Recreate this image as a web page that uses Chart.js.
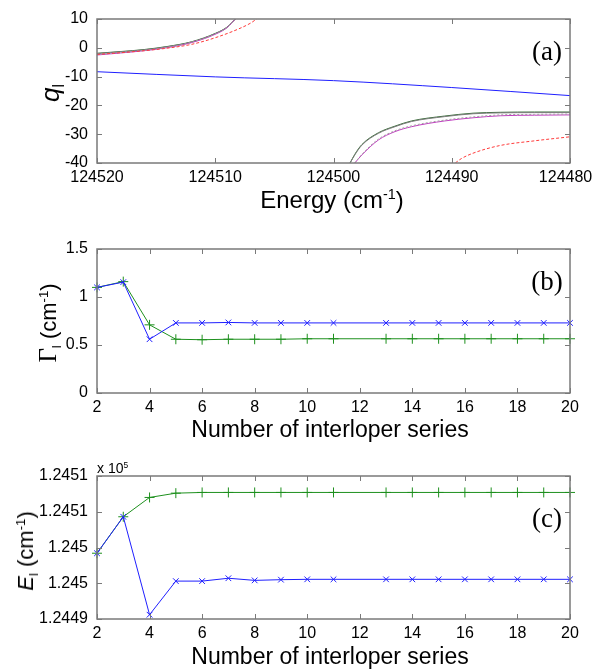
<!DOCTYPE html>
<html lang="en">
<head>
    <meta charset="UTF-8">
    <title>Fano parameters vs. interloper series</title>
    <script src="https://cdn.jsdelivr.net/npm/chart.js"></script>
    <style>
        body {
            margin: 0;
            background: #ffffff;
        }
        .figure {
            position: relative;
            width: 595px;
            height: 669px;
            background: #ffffff;
            font-family: "Liberation Sans", Arial, sans-serif;
            color: #000000;
        }
        .figure canvas {
            position: absolute;
            left: 0;
        }
        .lbl {
            position: absolute;
            white-space: nowrap;
            line-height: 1;
            transform: translate(-50%, -50%);
        }
        .rot {
            transform: translate(-50%, -50%) rotate(-90deg);
        }
        .tag {
            font-family: "Liberation Serif", "Times New Roman", serif;
            font-size: 27px;
        }
        .sub {
            font-size: 0.6em;
            position: relative;
            top: 0.35em;
        }
        .sup {
            font-size: 0.6em;
            position: relative;
            top: -0.6em;
        }
    </style>
</head>
<body>
    <div class="figure">
        <canvas id="chartA" width="595" height="220" style="top:0"></canvas>
        <canvas id="chartB" width="595" height="220" style="top:220px"></canvas>
        <canvas id="chartC" width="595" height="229" style="top:440px"></canvas>

        <div class="lbl rot" style="left:50px; top:93px; font-size:26px;"><i>q</i><span class="sub">l</span></div>
        <div class="lbl" style="left:332px; top:200px; font-size:24px;">Energy (cm<span class="sup">-1</span>)</div>
        <div class="lbl tag" style="left:547px; top:51px;">(a)</div>

        <div class="lbl rot" style="left:47px; top:323px; font-size:22px;"><span style="font-family:'Liberation Serif',serif; font-size:25px;">&Gamma;</span><span class="sub">l</span> (cm<span class="sup">-1</span>)</div>
        <div class="lbl" style="left:330px; top:429px; font-size:23px;">Number of interloper series</div>
        <div class="lbl tag" style="left:547px; top:281px;">(b)</div>

        <div class="lbl rot" style="left:26px; top:551px; font-size:22px;"><i>E</i><span class="sub">l</span> (cm<span class="sup">-1</span>)</div>
        <div class="lbl" style="left:330px; top:656px; font-size:23px;">Number of interloper series</div>
        <div class="lbl tag" style="left:547px; top:518px;">(c)</div>
        <div class="lbl" style="left:97px; top:468px; font-size:14px; transform:translate(0,-50%);">x 10<span class="sup">5</span></div>
    </div>

    <script>
        // (a) q_l against energy, each curve split into the branches either side of the pole
        const eLeft = [124520, 124518, 124516, 124514, 124512, 124510, 124509, 124508.3];
        const qGreenLeft = [-1.9, -1.3, -0.6, 0.5, 2.1, 5.0, 7.2, 10];
        const qGrayLeft = [-2.0, -1.4, -0.7, 0.4, 2.0, 4.9, 7.1, 10];
        const qMagentaLeft = [-2.5, -1.8, -1.0, 0.1, 1.8, 4.7, 7.0, 10];
        const qDotLeft = [-2.3, -1.6, -0.9, 0.2, 1.9, 4.8, 7.0, 10];
        const eRedLeft = [124520, 124518, 124516, 124514, 124512, 124510, 124508, 124507, 124506.5];
        const qRedLeft = [-2.3, -1.7, -1.0, -0.1, 1.2, 3.5, 6.6, 8.6, 10];

        const eGrayRight = [124498.6, 124498.2, 124497.6, 124496.2, 124494.8, 124493.4, 124490.6, 124488.2, 124485.9, 124483, 124480];
        const qGrayRight = [-40, -37.2, -33.8, -29.7, -27.4, -25.6, -23.9, -22.9, -22.6, -22.5, -22.5];
        const qGreenRight = [-40, -37.0, -33.6, -29.5, -27.2, -25.4, -23.7, -22.7, -22.4, -22.3, -22.3];
        const eMagentaRight = [124498.2, 124497.6, 124496.2, 124494.8, 124493.4, 124490.6, 124488.2, 124485.9, 124483, 124480];
        const qMagentaRight = [-40, -37.2, -32.0, -29.1, -27.4, -25.4, -24.3, -23.6, -23.4, -23.3];
        const qDotRight = [-40, -37.0, -31.7, -28.8, -27.1, -25.1, -24.0, -23.3, -23.1, -23.0];
        const eRedRight = [124489.7, 124489.2, 124488.2, 124486, 124483, 124480];
        const qRedRight = [-40, -38.5, -36.6, -34.0, -32.3, -30.9];

        const eBlue = [124520, 124510, 124500, 124490, 124480];
        const qBlue = [-8.3, -10.1, -11.4, -13.8, -16.6];

        // (b) and (c) against number of interloper series (no run at 12)
        const nSeries = [2, 3, 4, 5, 6, 7, 8, 9, 10, 11, 13, 14, 15, 16, 17, 18, 19, 20];
        const gammaX = [1.10, 1.155, 0.56, 0.73, 0.73, 0.735, 0.73, 0.73, 0.73, 0.73, 0.73, 0.73, 0.73, 0.73, 0.73, 0.73, 0.73, 0.73];
        const gammaPlus = [1.10, 1.16, 0.71, 0.56, 0.555, 0.56, 0.56, 0.56, 0.565, 0.565, 0.565, 0.565, 0.565, 0.565, 0.565, 0.565, 0.565, 0.565];
        const energyX = [124499.2, 124504.3, 124490.6, 124495.3, 124495.3, 124495.7, 124495.4, 124495.5, 124495.55, 124495.55, 124495.55, 124495.55, 124495.55, 124495.55, 124495.55, 124495.55, 124495.55, 124495.55];
        const energyPlus = [124499.2, 124504.3, 124507.0, 124507.6, 124507.7, 124507.7, 124507.7, 124507.7, 124507.7, 124507.7, 124507.7, 124507.7, 124507.7, 124507.7, 124507.7, 124507.7, 124507.7, 124507.7];
        const energyTickLabels = ['1.2449', '1.245', '1.245', '1.2451', '1.2451'];

        const pts = (xs, ys) => xs.map((v, i) => ({ x: v, y: ys[i] }));
        const font = { family: "'Liberation Sans', Arial, sans-serif", size: 16 };

        // closed box with inward ticks on all four sides
        const boxAxes = {
            id: 'boxAxes',
            afterDraw(chart) {
                const { ctx, chartArea: a, scales: { x, y } } = chart;
                ctx.save();
                ctx.strokeStyle = '#7a7a7a';
                ctx.lineWidth = 1;
                ctx.beginPath();
                x.ticks.forEach(t => {
                    const px = Math.round(x.getPixelForValue(t.value)) + 0.5;
                    ctx.moveTo(px, a.bottom); ctx.lineTo(px, a.bottom - 5);
                    ctx.moveTo(px, a.top); ctx.lineTo(px, a.top + 5);
                });
                y.ticks.forEach(t => {
                    const py = Math.round(y.getPixelForValue(t.value)) + 0.5;
                    ctx.moveTo(a.left, py); ctx.lineTo(a.left + 5, py);
                    ctx.moveTo(a.right, py); ctx.lineTo(a.right - 5, py);
                });
                ctx.stroke();
                ctx.lineWidth = 1.5;
                ctx.strokeRect(a.left, a.top, a.right - a.left, a.bottom - a.top);
                ctx.restore();
            }
        };

        function makeChart(id, canvasH, top, bottom, datasets, xScale, yScale) {
            return new Chart(document.getElementById(id).getContext('2d'), {
                type: 'scatter',
                data: { datasets: datasets },
                options: {
                    responsive: false,
                    animation: false,
                    devicePixelRatio: 1,
                    layout: { padding: { top: top, right: 25, left: 0, bottom: 0 } },
                    plugins: { legend: { display: false }, tooltip: { enabled: false } },
                    scales: {
                        x: Object.assign({
                            type: 'linear',
                            border: { display: false },
                            grid: { display: false },
                            afterFit: s => {
                                s.height = canvasH - bottom;
                                s.paddingLeft = 0; s.paddingRight = 0;
                            }
                        }, xScale),
                        y: Object.assign({
                            type: 'linear',
                            border: { display: false },
                            grid: { display: false },
                            afterFit: s => {
                                s.width = 97;
                                s.paddingTop = 0; s.paddingBottom = 0;
                            }
                        }, yScale)
                    }
                },
                plugins: [boxAxes]
            });
        }

        const curve = (data, color, dash) => ({
            data: data,
            showLine: true,
            borderColor: color,
            borderWidth: 1,
            borderDash: dash || [],
            pointRadius: 0,
            cubicInterpolationMode: 'monotone'
        });

        const plain = v => String(v);

        makeChart('chartA', 220, 19, 163, [
            curve(pts(eRedLeft, qRedLeft), '#ff3a3a', [3, 2]),
            curve(pts(eRedRight, qRedRight), '#ff3a3a', [3, 2]),
            curve(pts(eBlue, qBlue), '#1f1fff'),
            curve(pts(eLeft, qDotLeft), '#a0a0a0', [2, 2]),
            curve(pts(eMagentaRight, qDotRight), '#a0a0a0', [2, 2]),
            curve(pts(eLeft, qMagentaLeft), '#c03cc0'),
            curve(pts(eMagentaRight, qMagentaRight), '#c03cc0'),
            curve(pts(eLeft, qGrayLeft), '#7c7c7c'),
            curve(pts(eGrayRight, qGrayRight), '#7c7c7c'),
            curve(pts(eLeft, qGreenLeft), '#336b33'),
            curve(pts(eGrayRight, qGreenRight), '#336b33')
        ], {
            min: 124480, max: 124520, reverse: true,
            // trailing spaces nudge the right-most label back inside the page
            ticks: { stepSize: 10, font: font, color: '#000', padding: -3,
                     callback: v => v === 124480 ? v + '  ' : String(v) }
        }, {
            min: -40, max: 10,
            ticks: { stepSize: 10, font: font, color: '#000', padding: 1, callback: plain }
        });

        const markers = (ys, color, style, r) => ({
            data: pts(nSeries, ys),
            showLine: true,
            borderColor: color,
            borderWidth: 1,
            pointStyle: style,
            pointRadius: r,
            pointBorderColor: color,
            pointBorderWidth: 1,
            clip: 8
        });

        const countAxis = {
            min: 2, max: 20,
            ticks: { stepSize: 2, font: font, color: '#000', padding: -3, callback: plain }
        };

        makeChart('chartB', 220, 29, 173, [
            markers(gammaX, '#1f1fff', 'crossRot', 4),
            markers(gammaPlus, '#1e901e', 'cross', 5)
        ], countAxis, {
            min: 0, max: 1.5,
            ticks: { stepSize: 0.5, font: font, color: '#000', padding: 1, callback: plain }
        });

        makeChart('chartC', 229, 36, 179, [
            markers(energyX, '#1f1fff', 'crossRot', 4),
            markers(energyPlus, '#1e901e', 'cross', 5)
        ], countAxis, {
            min: 124490, max: 124510,
            ticks: { stepSize: 5, font: font, color: '#000', padding: 1,
                     callback: (v, i) => energyTickLabels[i] }
        });
    </script>
</body>
</html>
